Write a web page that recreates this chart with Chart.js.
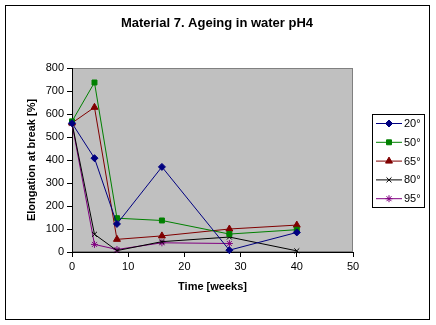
<!DOCTYPE html>
<html>
<head>
<meta charset="utf-8">
<script src="https://cdn.jsdelivr.net/npm/chart.js@4.4.1/dist/chart.umd.min.js"></script>
<style>
  body { margin: 0; background: #fff; }
  canvas { display: block; }
</style>
</head>
<body>
<canvas id="ageing" width="436" height="325"></canvas>
<script>
const weeks = [0, 4, 8, 16, 28, 40];
const t20 = [560, 408, 122, 370, 8, 85];
const t50 = [568, 737, 147, 137, 78, 97];
const t65 = [561, 629, 55, 70, 100, 117];
const t80 = [561, 77, 6, 45, 65, 5];
const t95 = [558, 33, 11, 40, 37, null];
const seriesNames = ["20°", "50°", "65°", "80°", "95°"];
const xTicks = [0, 10, 20, 30, 40, 50];
const yTicks = [0, 100, 200, 300, 400, 500, 600, 700, 800];
const chartTitle = "Material 7. Ageing in water pH4";

const FONT = "'Liberation Sans', Arial, sans-serif";

function points(values) {
    return weeks.map((w, i) => ({ x: w, y: values[i] }));
}

const styles = [
    { color: "#000080", pointStyle: "rectRot", radius: 3.5 },
    { color: "#008000", pointStyle: "rect", radius: 3.5 },
    { color: "#800000", pointStyle: "triangle", radius: 4 },
    { color: "#000000", pointStyle: "crossRot", radius: 3.5 },
    { color: "#800080", pointStyle: "star", radius: 3.5 },
];

const datasets = [t20, t50, t65, t80, t95].map((vals, i) => ({
    label: seriesNames[i],
    data: points(vals),
    borderColor: styles[i].color,
    backgroundColor: styles[i].color,
    borderWidth: 1,
    pointStyle: styles[i].pointStyle,
    pointRadius: styles[i].radius,
    pointBorderWidth: 1,
    tension: 0,
    clip: false,
}));

const frame = {
    id: "frame",
    beforeDraw(chart) {
        const { ctx, chartArea: a } = chart;
        ctx.save();
        ctx.fillStyle = "#ffffff";
        ctx.fillRect(0, 0, chart.width, chart.height);
        ctx.strokeStyle = "#000000";
        ctx.lineWidth = 1;
        ctx.strokeRect(5.5, 5.5, 424, 314);
        ctx.fillStyle = "#c0c0c0";
        ctx.fillRect(a.left, a.top, a.right - a.left, a.bottom - a.top);
        ctx.strokeStyle = "#808080";
        ctx.strokeRect(a.left + 0.5, a.top + 0.5, a.right - a.left - 1, a.bottom - a.top - 1);
        // title, centred on the whole chart
        ctx.fillStyle = "#000000";
        ctx.font = "bold 13px " + FONT;
        ctx.textAlign = "center";
        ctx.textBaseline = "middle";
        ctx.fillText(chartTitle, 217, 23);
        ctx.restore();
    },
    afterDraw(chart) {
        // legend box on the right, Excel style
        const ctx = chart.ctx;
        ctx.save();
        ctx.strokeStyle = "#000000";
        ctx.lineWidth = 1;
        ctx.strokeRect(372.5, 114.5, 52, 93);
        ctx.font = "11px " + FONT;
        ctx.textBaseline = "middle";
        chart.data.datasets.forEach((ds, i) => {
            const y = 123.5 + i * 18.8;
            ctx.strokeStyle = ds.borderColor;
            ctx.fillStyle = ds.backgroundColor;
            ctx.beginPath();
            ctx.moveTo(376, y);
            ctx.lineTo(402, y);
            ctx.stroke();
            Chart.helpers.drawPoint(ctx, {
                pointStyle: ds.pointStyle,
                radius: ds.pointRadius,
                borderWidth: 1,
                rotation: 0,
            }, 389, y);
            ctx.fillStyle = "#000000";
            ctx.fillText(ds.label, 404, y + 0.5);
        });
        ctx.restore();
    },
};

new Chart(document.getElementById("ageing"), {
    type: "line",
    data: { datasets: datasets },
    plugins: [frame],
    options: {
        responsive: false,
        animation: false,
        layout: { padding: { top: 68, right: 83, bottom: 0, left: 0 } },
        plugins: {
            legend: { display: false },
            tooltip: { enabled: false },
        },
        scales: {
            x: {
                type: "linear",
                min: 0,
                max: 50,
                afterFit: (scale) => { scale.height = 73; },
                afterBuildTicks: (scale) => { scale.ticks = xTicks.map((v) => ({ value: v })); },
                grid: { drawOnChartArea: false, drawTicks: true, tickLength: 5, color: "#000000" },
                border: { color: "#000000", width: 1 },
                ticks: { color: "#000000", font: { family: FONT, size: 11 }, padding: 3 },
                title: {
                    display: true,
                    text: "Time [weeks]",
                    color: "#000000",
                    font: { family: FONT, size: 11, weight: "bold" },
                    padding: { top: 0, bottom: 31 },
                },
            },
            y: {
                type: "linear",
                min: 0,
                max: 800,
                afterFit: (scale) => { scale.width = 72; },
                afterBuildTicks: (scale) => { scale.ticks = yTicks.map((v) => ({ value: v })); },
                grid: { drawOnChartArea: false, drawTicks: true, tickLength: 5, color: "#000000" },
                border: { color: "#000000", width: 1 },
                ticks: { color: "#000000", font: { family: FONT, size: 11 }, padding: 3 },
                title: {
                    display: true,
                    text: "Elongation at break [%]",
                    color: "#000000",
                    font: { family: FONT, size: 11, weight: "bold" },
                    padding: { top: 25, bottom: 0 },
                },
            },
        },
    },
});
</script>
</body>
</html>
